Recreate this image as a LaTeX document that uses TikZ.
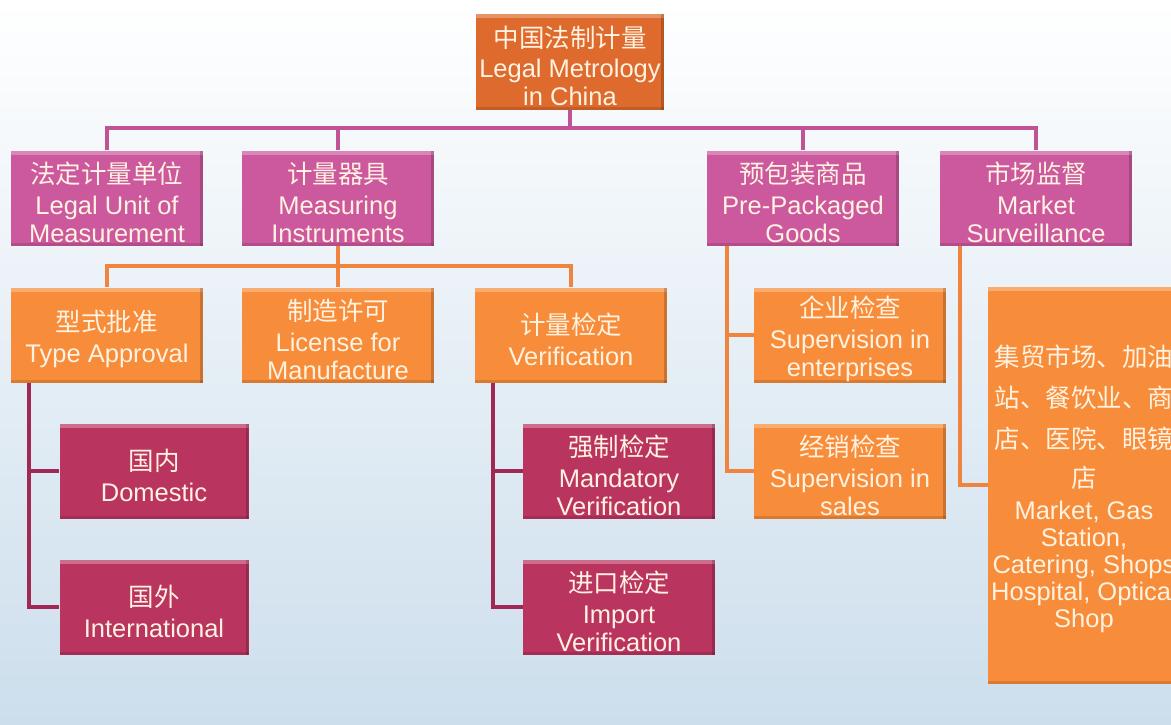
\documentclass[tikz,border=0pt]{standalone}
\usepackage{fontspec}
\setmainfont{Liberation Sans}
\newfontfamily\cjk{Noto Sans CJK SC}
\newcommand{\zhtxt}[1]{{\cjk #1}}
\newcommand{\tstrut}{\rule{0pt}{30pt}}
\definecolor{rootc}{RGB}{222,106,46}
\definecolor{pinkc}{RGB}{204,88,158}
\definecolor{orangec}{RGB}{247,140,58}
\definecolor{darkc}{RGB}{186,52,96}
\definecolor{pinkline}{RGB}{192,82,150}
\definecolor{orangeline}{RGB}{240,132,62}
\definecolor{darkline}{RGB}{160,40,82}
\definecolor{txtc}{RGB}{255,242,224}
\definecolor{bgc}{RGB}{204,222,236}
\begin{document}
\begin{tikzpicture}[x=1pt,y=-1pt,
  box/.style={minimum width=192pt, minimum height=95pt, inner sep=0pt,
    align=center, text=txtc, font=\fontsize{25.5}{28}\selectfont,
    path picture={
      \fill[white,opacity=.28] (path picture bounding box.north west) rectangle ([yshift=-4pt]path picture bounding box.north east);
      \fill[black,opacity=.18] ([xshift=-3pt]path picture bounding box.north east) rectangle (path picture bounding box.south east);
      \fill[black,opacity=.12] (path picture bounding box.south west) rectangle ([yshift=3pt]path picture bounding box.south east);
    }},
  rootbox/.style={box, fill=rootc, minimum width=188pt, minimum height=96pt},
  pinkbox/.style={box, fill=pinkc},
  orangebox/.style={box, fill=orangec},
  darkbox/.style={box, fill=darkc, minimum width=189pt},
  pinkconn/.style={draw=pinkline, line width=3.5pt},
  orangeconn/.style={draw=orangeline, line width=3.5pt},
  darkconn/.style={draw=darkline, line width=3.5pt}
]
\useasboundingbox (0,0) rectangle (1171,724);
\clip (0,0) rectangle (1171,724);
\fill[top color=white, bottom color=bgc] (0,0) rectangle (1171,724);

% nodes
\node[rootbox] (root) at (570,62) {\tstrut\zhtxt{中国法制计量}\\[2pt]Legal Metrology\\in China};

\node[pinkbox] (unit) at (107,198) {\tstrut\zhtxt{法定计量单位}\\[3pt]Legal Unit of\\Measurement};
\node[pinkbox] (instr) at (338,198) {\tstrut\zhtxt{计量器具}\\[3pt]Measuring\\Instruments};
\node[pinkbox] (pack) at (803,198) {\tstrut\zhtxt{预包装商品}\\[3pt]Pre-Packaged\\Goods};
\node[pinkbox] (market) at (1036,198) {\tstrut\zhtxt{市场监督}\\[3pt]Market\\Surveillance};

\node[orangebox] (type) at (107,335) {\tstrut\zhtxt{型式批准}\\[3pt]Type Approval};
\node[orangebox] (lic) at (338,335) {\tstrut\zhtxt{制造许可}\\[3pt]License for\\Manufacture};
\node[orangebox] (verif) at (571,335) {\tstrut\zhtxt{计量检定}\\[3pt]Verification};

\node[orangebox] (ent) at (850,335) {\tstrut\zhtxt{企业检查}\\[3pt]Supervision in\\enterprises};
\node[orangebox] (sales) at (850,471) {\tstrut\zhtxt{经销检查}\\[3pt]Supervision in\\sales};

\node[orangebox, minimum height=397pt, font=\fontsize{25.5}{27}\selectfont] (places) at (1084,485)
  {\tstrut\zhtxt{集贸市场、加油}\\[14pt]\zhtxt{站、餐饮业、商}\\[14pt]\zhtxt{店、医院、眼镜}\\[12pt]\zhtxt{店}\\[5pt]Market, Gas\\Station,\\Catering, Shops\\Hospital, Optical\\Shop};

\node[darkbox] (dom) at (154,471) {\tstrut\zhtxt{国内}\\[3pt]Domestic};
\node[darkbox] (intl) at (154,607) {\tstrut\zhtxt{国外}\\[3pt]International};

\node[darkbox, minimum width=192pt] (mand) at (619,471) {\tstrut\zhtxt{强制检定}\\[3pt]Mandatory\\Verification};
\node[darkbox, minimum width=192pt] (imp) at (619,607) {\tstrut\zhtxt{进口检定}\\[3pt]Import\\Verification};

% connectors
\coordinate (bus1) at (570,128);
\coordinate (bus2) at (338,266);
\path[pinkconn] (root.south) -- (bus1);
\path[pinkconn] (unit.north) |- (bus1) -| (market.north);
\path[pinkconn] (instr.north) -- (instr.north |- bus1);
\path[pinkconn] (pack.north) -- (pack.north |- bus1);

\path[orangeconn] (instr.south) -- (bus2);
\path[orangeconn] (type.north) |- (bus2) -| (verif.north);
\path[orangeconn] (lic.north) -- (lic.north |- bus2);

\coordinate (packdrop) at ([xshift=20pt]pack.south west);
\path[orangeconn] (packdrop) |- (ent.west);
\path[orangeconn] (packdrop) |- (sales.west);

\coordinate (marketdrop) at ([xshift=20pt]market.south west);
\path[orangeconn] (marketdrop) |- (places.west);

\coordinate (typedrop) at ([xshift=18pt]type.south west);
\path[darkconn] (typedrop) |- (dom.west);
\path[darkconn] (typedrop) |- (intl.west);

\coordinate (verifdrop) at ([xshift=18pt]verif.south west);
\path[darkconn] (verifdrop) |- (mand.west);
\path[darkconn] (verifdrop) |- (imp.west);
\end{tikzpicture}
\end{document}
